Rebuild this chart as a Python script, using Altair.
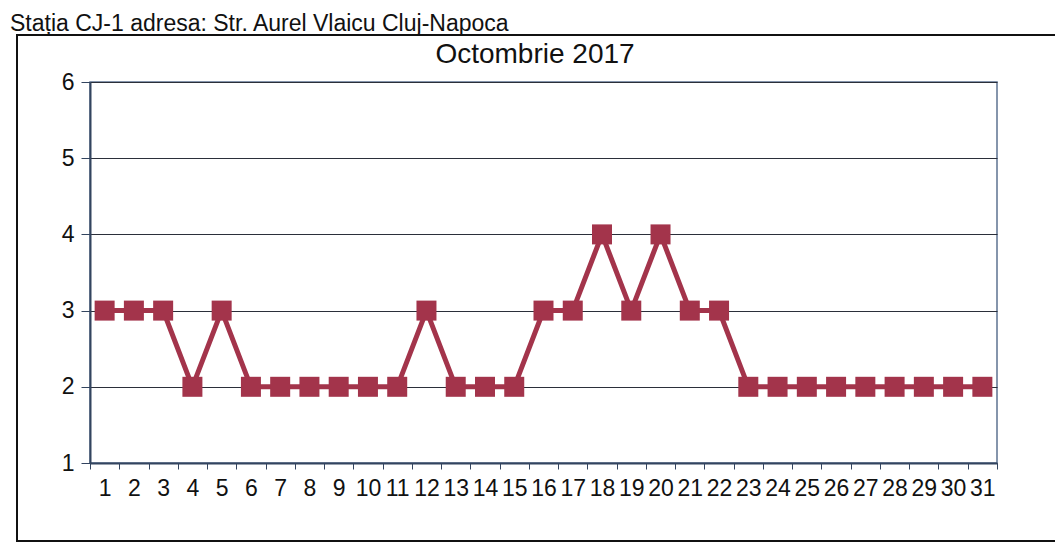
import altair as alt
import pandas as pd

days = list(range(1, 32))
values = [3, 3, 3, 2, 3, 2, 2, 2, 2, 2, 2, 3, 2, 2, 2, 3, 3, 4, 3, 4, 3, 3,
          2, 2, 2, 2, 2, 2, 2, 2, 2]
y_ticks = [1, 2, 3, 4, 5, 6]
chart_title = "Octombrie 2017"
page_title = "Stația CJ-1 adresa: Str. Aurel Vlaicu Cluj-Napoca"

df = pd.DataFrame({"day": days, "value": values})

FONT = "Liberation Sans"
COLOR = "#A3344B"

x_enc = alt.X("day:O", scale=alt.Scale(type="band", paddingInner=0, paddingOuter=0),
              axis=alt.Axis(title=None, labelAngle=0, tickBand="extent", labelFontSize=23,
                            labelFont=FONT, labelColor="#111", labelPadding=8, tickSize=6,
                            labelOverlap=False,
                            tickColor="#33445f", domainColor="#33445f", domainWidth=2,
                            grid=False))
y_enc = alt.Y("value:Q", scale=alt.Scale(domain=[1, 6], nice=False, zero=False),
              axis=alt.Axis(title=None, values=y_ticks, format="d", labelFontSize=23,
                            labelFont=FONT, labelColor="#111", labelPadding=7, tickSize=9,
                            tickColor="#33445f", domainColor="#33445f", domainWidth=2,
                            grid=True, gridColor="#2b2f3a", gridWidth=1.2))

base = alt.Chart(df)
line = base.mark_line(color=COLOR, strokeWidth=5).encode(x=x_enc, y=y_enc)
pts = base.mark_point(shape="square", filled=True, size=400, color=COLOR, opacity=1).encode(
    x="day:O", y="value:Q")

one = alt.Data(values=[{}])
frame = alt.Chart(one).mark_rect(fill="transparent", stroke="#111", strokeWidth=2).encode(
    x=alt.value(-73), x2=alt.value(990), y=alt.value(-47), y2=alt.value(459))
title_txt = alt.Chart(one).mark_text(text=chart_title, fontSize=28, font=FONT, color="#111",
                                     align="center", baseline="middle").encode(
    x=alt.value(445), y=alt.value(-27))
top_txt = alt.Chart(one).mark_text(text=page_title, fontSize=23, font=FONT, color="#111",
                                   align="left", baseline="alphabetic").encode(
    x=alt.value(-80), y=alt.value(-51))

chart = alt.layer(frame, line, pts, title_txt, top_txt).properties(
    width=907, height=381,
    autosize=alt.AutoSizeParams(type="none"),
    padding={"left": 82, "top": 74, "right": 58, "bottom": 82},
).configure_view(stroke="#5d7391", strokeWidth=1.5)

chart.save("out.html", embed_options={"renderer": "svg", "actions": False})
